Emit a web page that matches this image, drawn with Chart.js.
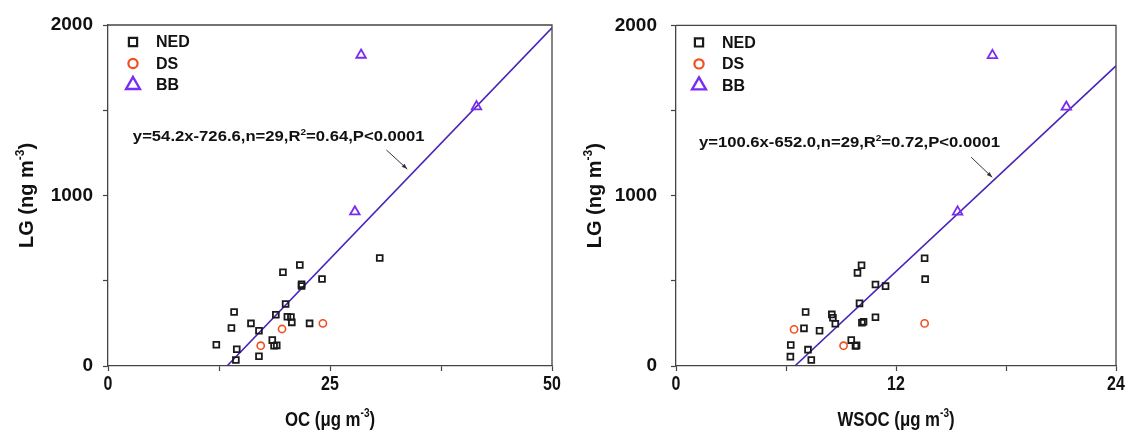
<!DOCTYPE html>
<html>
<head>
<meta charset="utf-8">
<script src="https://cdn.jsdelivr.net/npm/chart.js@4"></script>
<style>
  body { margin: 0; background: #fff; }
  .box { position: absolute; top: 0; height: 432px; }
  canvas { display: block; }
</style>
</head>
<body>
<div class="box" style="left:0;width:563px"><canvas id="chartOC" width="563" height="432"></canvas></div>
<div class="box" style="left:563px;width:564px"><canvas id="chartWSOC" width="564" height="432"></canvas></div>
<script>
// datos (LG en ng m-3)
const ocNED   = [12.2, 14.2, 13.9, 14.5, 14.4, 16.1, 17.0, 17.0, 18.5, 18.7, 19.0, 18.9, 20.0, 19.7, 20.2, 20.6, 20.7, 21.6, 21.8, 21.8, 22.7, 24.1, 30.6];
const lgNED_OC = [125, 317, 223, 98, 35, 250, 207, 57, 152, 119, 121, 301, 364, 550, 289, 287, 256, 592, 479, 469, 250, 510, 633];
const ocDS    = [17.2, 19.6, 24.2];
const lgDS_OC = [119, 217, 250];
const ocBB    = [28.5, 41.5, 27.8];
const lgBB_OC = [1824, 1521, 905];

const wsocNED   = [6.26, 6.24, 6.98, 7.07, 7.20, 7.38, 7.83, 8.50, 8.56, 8.69, 10.01, 9.56, 9.79, 9.85, 9.90, 10.12, 10.14, 10.23, 10.88, 10.88, 11.43, 13.56, 13.59];
const lgNED_WSOC = [123, 55, 221, 317, 96, 35, 207, 303, 283, 248, 368, 152, 117, 121, 547, 592, 254, 260, 286, 479, 469, 633, 510];
const wsocDS    = [6.44, 9.14, 13.56];
const lgDS_WSOC = [215, 119, 250];
const wsocBB    = [17.26, 21.29, 15.36];
const lgBB_WSOC = [1824, 1521, 905];

// regresiones impresas en la figura: [pendiente, intercepto]
const fitOC   = [54.2, -726.6];
const fitWSOC = [100.6, -652.0];

// etiquetas de los ejes
const lgTickLabels   = [0, 1000, 2000];
const ocTickLabels   = [0, 25, 50];
const wsocTickLabels = [0, 12, 24];

const BOLD = "'Liberation Sans', Arial, sans-serif";
const ANGOSTO = 0.8; // la figura usa una fuente estrecha en el eje x

function puntos(xs, ys) {
    return xs.map((x, i) => ({ x: x, y: ys[i] }));
}

// texto con superindice
function textoRico(ctx, partes, x, y, size, align) {
    const fuente = s => `bold ${s}px ${BOLD}`;
    let total = 0;
    partes.forEach(p => {
        ctx.font = fuente(p.sup ? size * 0.6 : size);
        total += ctx.measureText(p.t).width;
    });
    let cx = align === 'center' ? x - total / 2 : x;
    ctx.textAlign = 'left';
    ctx.textBaseline = 'alphabetic';
    partes.forEach(p => {
        ctx.font = fuente(p.sup ? size * 0.6 : size);
        ctx.fillText(p.t, cx, p.sup ? y - size * 0.45 : y);
        cx += ctx.measureText(p.t).width;
    });
}

const decor = {
    id: 'decor',
    afterDraw(chart, args, o) {
        const { ctx, chartArea: a, scales: { x, y } } = chart;
        ctx.save();

        // marco superior y derecho
        ctx.strokeStyle = '#444';
        ctx.lineWidth = 1.3;
        ctx.beginPath();
        ctx.moveTo(a.left, a.top);
        ctx.lineTo(a.right, a.top);
        ctx.lineTo(a.right, a.bottom);
        ctx.stroke();

        // etiquetas del eje x (estrechas)
        ctx.fillStyle = '#111';
        ctx.font = `bold 20px ${BOLD}`;
        ctx.textAlign = 'center';
        ctx.textBaseline = 'middle';
        o.xLabels.forEach(v => {
            ctx.save();
            ctx.translate(x.getPixelForValue(v), a.bottom + 18);
            ctx.scale(ANGOSTO, 1);
            ctx.fillText(String(v), 0, 0);
            ctx.restore();
        });

        // leyenda
        let fila = 0;
        chart.data.datasets.forEach(ds => {
            if (!ds.legendRadius) return;
            const ly = a.top + 17 + fila * 21.5;
            ctx.strokeStyle = ds.borderColor;
            ctx.fillStyle = 'rgba(0,0,0,0)';
            ctx.lineWidth = ds.legendWidth;
            Chart.helpers.drawPoint(ctx, { pointStyle: ds.pointStyle, radius: ds.legendRadius, borderWidth: ds.legendWidth, rotation: 0 }, a.left + o.legendX, ly);
            ctx.fillStyle = '#111';
            ctx.font = `bold 16px ${BOLD}`;
            ctx.textAlign = 'left';
            ctx.textBaseline = 'middle';
            ctx.fillText(ds.label, a.left + o.legendX + 23, ly + 1);
            fila++;
        });

        // ecuacion
        ctx.fillStyle = '#111';
        ctx.save();
        ctx.translate(x.getPixelForValue(o.eq.x), y.getPixelForValue(o.eq.y));
        ctx.scale(1.19, 1);
        textoRico(ctx, o.eq.partes, 0, 0, 14, 'left');
        ctx.restore();

        // flecha
        const x0 = x.getPixelForValue(o.arrow[0]), y0 = y.getPixelForValue(o.arrow[1]);
        const x1 = x.getPixelForValue(o.arrow[2]), y1 = y.getPixelForValue(o.arrow[3]);
        const ang = Math.atan2(y1 - y0, x1 - x0);
        ctx.strokeStyle = '#333';
        ctx.fillStyle = '#333';
        ctx.lineWidth = 1;
        ctx.beginPath();
        ctx.moveTo(x0, y0);
        ctx.lineTo(x1, y1);
        ctx.stroke();
        ctx.beginPath();
        ctx.moveTo(x1, y1);
        ctx.lineTo(x1 - 6 * Math.cos(ang - 0.35), y1 - 6 * Math.sin(ang - 0.35));
        ctx.lineTo(x1 - 6 * Math.cos(ang + 0.35), y1 - 6 * Math.sin(ang + 0.35));
        ctx.closePath();
        ctx.fill();

        // titulos de ejes
        ctx.fillStyle = '#111';
        ctx.save();
        ctx.translate((a.left + a.right) / 2, a.bottom + 60);
        ctx.scale(ANGOSTO, 1);
        textoRico(ctx, o.xTitle, 0, 0, 21, 'center');
        ctx.restore();
        ctx.save();
        ctx.translate(a.left - 75, (a.top + a.bottom) / 2);
        ctx.rotate(-Math.PI / 2);
        textoRico(ctx, [{ t: 'LG (ng m' }, { t: '-3', sup: true }, { t: ')' }], 0, 0, 20, 'center');
        ctx.restore();

        ctx.restore();
    }
};

function crearGrafico(id, cfg) {
    const [m, b] = cfg.fit;
    const xMax = cfg.xLabels[cfg.xLabels.length - 1];
    const ejeBase = {
        type: 'linear',
        grid: { drawOnChartArea: false, drawTicks: true, tickLength: 5, tickColor: '#444', tickWidth: 1.2 },
        border: { color: '#444', width: 1.3 }
    };
    return new Chart(document.getElementById(id), {
        type: 'scatter',
        data: {
            datasets: [
                {
                    label: 'NED', data: puntos(cfg.xNED, cfg.yNED),
                    pointStyle: 'rect', pointRadius: 4.1, borderWidth: 1.8,
                    borderColor: '#1a1a1a', backgroundColor: 'rgba(0,0,0,0)',
                    legendRadius: 5.8, legendWidth: 2.2
                },
                {
                    label: 'DS', data: puntos(cfg.xDS, cfg.yDS),
                    pointStyle: 'circle', pointRadius: 3.6, borderWidth: 1.6,
                    borderColor: '#F0501F', backgroundColor: 'rgba(0,0,0,0)',
                    legendRadius: 4.6, legendWidth: 2.2
                },
                {
                    label: 'BB', data: puntos(cfg.xBB, cfg.yBB),
                    pointStyle: 'triangle', pointRadius: 5.5, borderWidth: 1.8,
                    borderColor: '#7B2BF2', backgroundColor: 'rgba(0,0,0,0)',
                    legendRadius: 8, legendWidth: 2.4
                },
                {
                    type: 'line', label: 'fit',
                    data: [{ x: -b / m, y: 0 }, { x: xMax, y: m * xMax + b }],
                    borderColor: '#4B22B8', borderWidth: 1.6, pointRadius: 0
                }
            ]
        },
        options: {
            responsive: false,
            animation: false,
            layout: { padding: { top: 25, right: 11, left: 0, bottom: 0 } },
            plugins: {
                legend: { display: false },
                tooltip: { enabled: false },
                decor: { legendX: cfg.legendX, eq: cfg.eq, arrow: cfg.arrow, xTitle: cfg.xTitle, xLabels: cfg.xLabels }
            },
            scales: {
                x: Object.assign({}, ejeBase, {
                    min: 0, max: xMax,
                    afterBuildTicks: s => { s.ticks = cfg.xMinor.map(v => ({ value: v })); },
                    afterFit: s => { s.height = 66; },
                    ticks: { autoSkip: false, maxRotation: 0, callback: () => '' }
                }),
                y: Object.assign({}, ejeBase, {
                    min: 0, max: 2000,
                    afterBuildTicks: s => { s.ticks = [0, 500, 1000, 1500, 2000].map(v => ({ value: v })); },
                    afterFit: s => { s.width = cfg.yWidth; },
                    ticks: {
                        autoSkip: false, padding: cfg.yPad, color: '#111',
                        font: { family: BOLD, size: 19, weight: 'bold' },
                        callback: v => lgTickLabels.includes(v) ? v : ''
                    }
                })
            }
        },
        plugins: [decor]
    });
}

crearGrafico('chartOC', {
    xNED: ocNED, yNED: lgNED_OC, xDS: ocDS, yDS: lgDS_OC, xBB: ocBB, yBB: lgBB_OC,
    fit: fitOC, xLabels: ocTickLabels, xMinor: [0, 12.5, 25, 37.5, 50],
    yWidth: 108, yPad: 10, legendX: 25,
    eq: { x: 2.8, y: 1320, partes: [{ t: 'y=54.2x-726.6,n=29,R' }, { t: '2', sup: true }, { t: '=0.64,P<0.0001' }] },
    arrow: [31.35, 1267, 33.7, 1155],
    xTitle: [{ t: 'OC (\u03bcg m' }, { t: '-3', sup: true }, { t: ')' }]
});

crearGrafico('chartWSOC', {
    xNED: wsocNED, yNED: lgNED_WSOC, xDS: wsocDS, yDS: lgDS_WSOC, xBB: wsocBB, yBB: lgBB_WSOC,
    fit: fitWSOC, xLabels: wsocTickLabels, xMinor: [0, 6, 12, 18, 24],
    yWidth: 113, yPad: 14, legendX: 23,
    eq: { x: 1.25, y: 1285, partes: [{ t: 'y=100.6x-652.0,n=29,R' }, { t: '2', sup: true }, { t: '=0.72,P<0.0001' }] },
    arrow: [16.1, 1226, 17.25, 1108],
    xTitle: [{ t: 'WSOC (\u03bcg m' }, { t: '-3', sup: true }, { t: ')' }]
});
</script>
</body>
</html>
